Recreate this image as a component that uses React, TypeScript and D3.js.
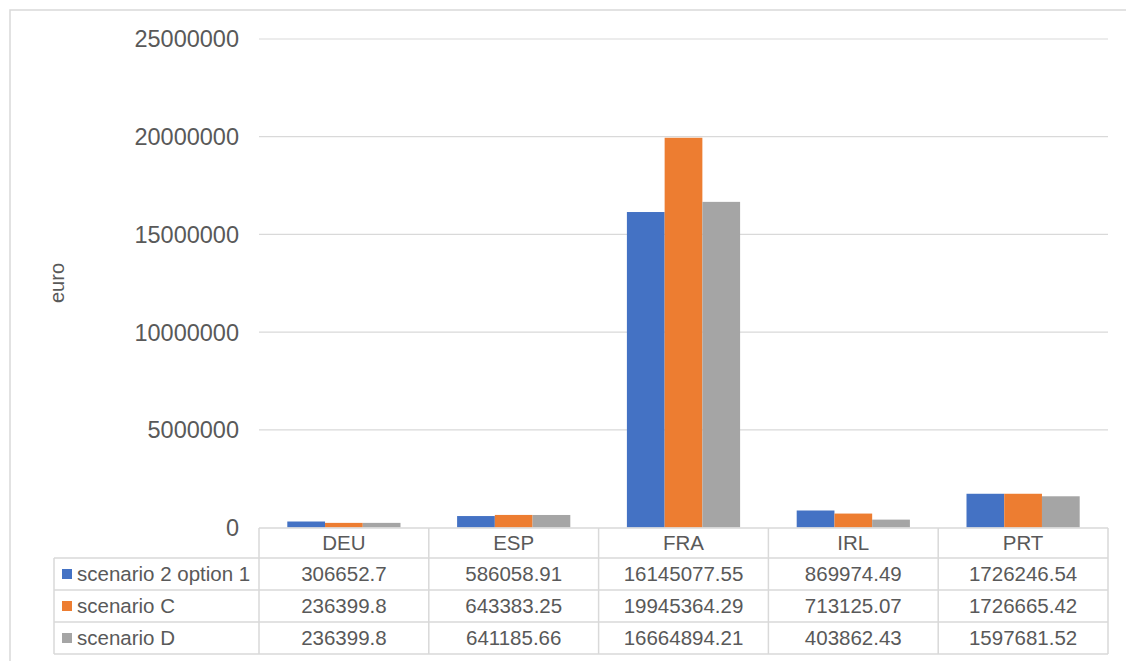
import React from "react";
import * as d3 from "d3";

const categories = ["DEU", "ESP", "FRA", "IRL", "PRT"];
const seriesNames = ["scenario 2 option 1", "scenario C", "scenario D"];
const seriesColors = ["#4472C4", "#ED7D31", "#A5A5A5"];
const scenario2Option1 = [306652.7, 586058.91, 16145077.55, 869974.49, 1726246.54];
const scenarioC = [236399.8, 643383.25, 19945364.29, 713125.07, 1726665.42];
const scenarioD = [236399.8, 641185.66, 16664894.21, 403862.43, 1597681.52];
const seriesLabels = [
  ["306652.7", "586058.91", "16145077.55", "869974.49", "1726246.54"],
  ["236399.8", "643383.25", "19945364.29", "713125.07", "1726665.42"],
  ["236399.8", "641185.66", "16664894.21", "403862.43", "1597681.52"],
];
const yTicks = [0, 5000000, 10000000, 15000000, 20000000, 25000000];
const yLabel = "euro";

const seriesValues = [scenario2Option1, scenarioC, scenarioD];

export default function App() {
  const W = 1126, H = 661;
  const plotLeft = 259, plotRight = 1108;
  const plotTop = 39, plotBottom = 527.5;
  const tableTop = 528;
  const rowH = 32;
  const headerBottom = 558;
  const legendLeft = 54;
  const font = "'Liberation Sans', Arial, sans-serif";
  const textColor = "#595959";
  const gridColor = "#D9D9D9";

  const x0 = d3.scaleBand().domain(categories).range([plotLeft, plotRight]).paddingInner(0).paddingOuter(0);
  const x1 = d3.scaleBand().domain(seriesNames).range([0, x0.bandwidth()]).paddingInner(0).paddingOuter(0.75);
  const y = d3.scaleLinear().domain([0, 25000000]).range([plotBottom, plotTop]);

  const rowTops = seriesNames.map((_, i) => headerBottom + i * rowH);
  const tableBottom = headerBottom + seriesNames.length * rowH;

  return (
    <svg width={W} height={H} style={{ position: "absolute", left: 0, top: 0, background: "#fff" }}>
      <rect x={10} y={10} width={W + 20} height={H + 20} fill="#fff" stroke={gridColor} strokeWidth={1.5} />
      {yTicks.map((t) => (
        <g key={t}>
          {t !== 0 && (
            <line x1={plotLeft} x2={plotRight} y1={y(t)} y2={y(t)} stroke={gridColor} strokeWidth={1.2} />
          )}
          <text x={239} y={y(t)} dy="0.36em" textAnchor="end" fontFamily={font} fontSize={23.5} fill={textColor}>
            {t}
          </text>
        </g>
      ))}
      <text
        transform={`translate(64,283) rotate(-90)`}
        textAnchor="middle"
        fontFamily={font}
        fontSize={20}
        fill={textColor}
      >
        {yLabel}
      </text>
      {categories.map((c, ci) => (
        <g key={c} transform={`translate(${x0(c)},0)`}>
          {seriesNames.map((s, si) => {
            const v = seriesValues[si][ci];
            return (
              <rect
                key={s}
                x={x1(s)}
                y={y(v)}
                width={x1.bandwidth()}
                height={plotBottom - y(v)}
                fill={seriesColors[si]}
              />
            );
          })}
        </g>
      ))}
      {/* table */}
      <g stroke={gridColor} strokeWidth={1.5} fill="none">
        <line x1={plotLeft} x2={plotRight} y1={tableTop} y2={tableTop} />
        {[headerBottom, ...rowTops.slice(1), tableBottom].map((yy, i) => (
          <line key={i} x1={legendLeft} x2={plotRight} y1={yy} y2={yy} />
        ))}
        <line x1={legendLeft} x2={legendLeft} y1={headerBottom} y2={tableBottom} />
        {categories.map((c) => (
          <line key={c} x1={x0(c)} x2={x0(c)} y1={tableTop} y2={tableBottom} />
        ))}
        <line x1={plotRight} x2={plotRight} y1={tableTop} y2={tableBottom} />
      </g>
      {categories.map((c) => (
        <text
          key={c}
          x={(x0(c) as number) + x0.bandwidth() / 2}
          y={(tableTop + headerBottom) / 2}
          dy="0.36em"
          textAnchor="middle"
          fontFamily={font}
          fontSize={20.5}
          fill={textColor}
        >
          {c}
        </text>
      ))}
      {seriesNames.map((s, si) => (
        <g key={s}>
          <rect x={62} y={rowTops[si] + rowH / 2 - 5} width={10} height={10} fill={seriesColors[si]} />
          <text x={77} y={rowTops[si] + rowH / 2} dy="0.36em" fontFamily={font} fontSize={20.5} fill={textColor}>
            {s}
          </text>
          {categories.map((c, ci) => (
            <text
              key={c}
              x={(x0(c) as number) + x0.bandwidth() / 2}
              y={rowTops[si] + rowH / 2}
              dy="0.36em"
              textAnchor="middle"
              fontFamily={font}
              fontSize={20.5}
              fill={textColor}
            >
              {seriesLabels[si][ci]}
            </text>
          ))}
        </g>
      ))}
    </svg>
  );
}
